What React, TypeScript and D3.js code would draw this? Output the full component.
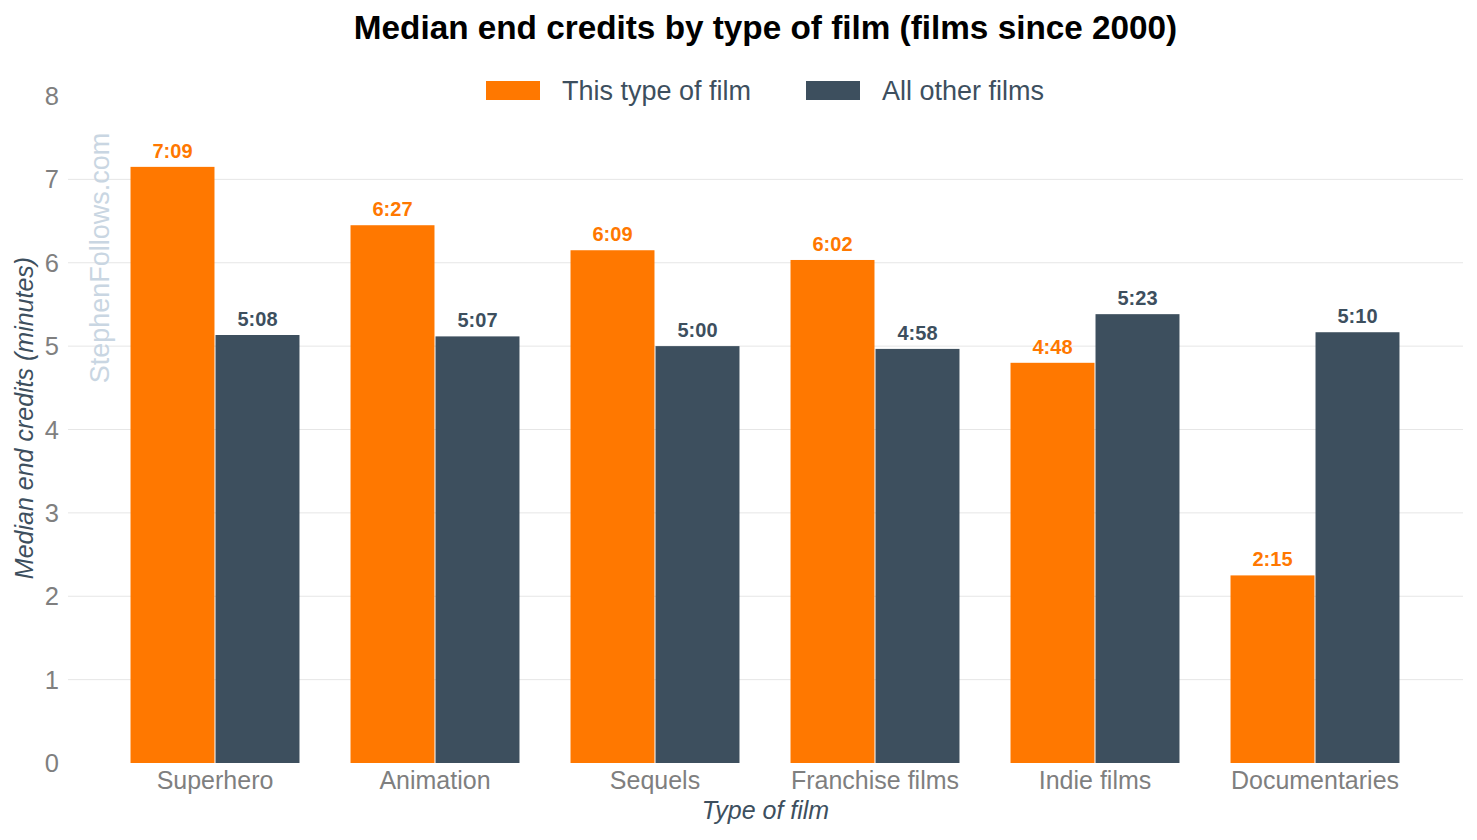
import React from "react";
import * as d3 from "d3";

const categories = ["Superhero", "Animation", "Sequels", "Franchise films", "Indie films", "Documentaries"];
const seriesNames = ["This type of film", "All other films"];
const thisTypeLabels = ["7:09", "6:27", "6:09", "6:02", "4:48", "2:15"];
const otherLabels = ["5:08", "5:07", "5:00", "4:58", "5:23", "5:10"];
const yTicks = [0, 1, 2, 3, 4, 5, 6, 7, 8];
const gridTicks = [1, 2, 3, 4, 5, 6, 7];

const toMinutes = (s: string) => {
  const [m, sec] = s.split(":").map(Number);
  return m + sec / 60;
};
const thisTypeValues = thisTypeLabels.map(toMinutes);
const otherValues = otherLabels.map(toMinutes);

const COLORS = ["#FF7800", "#3D4F5E"];
const FONT = "'Liberation Sans', Arial, Helvetica, sans-serif";

export default function App() {
  const W = 1477;
  const H = 840;
  const plotLeft = 68;
  const plotRight = 1463;

  const x = d3.scaleBand<string>().domain(categories).range([105, 1425]).paddingInner(0.232).paddingOuter(0.116);
  const xs = d3.scaleBand<string>().domain(seriesNames).range([0, x.bandwidth()]).paddingInner(0.012);
  const y = d3.scaleLinear().domain([0, 8]).range([763, 96]);

  const seriesData = [
    { name: seriesNames[0], values: thisTypeValues, labels: thisTypeLabels, color: COLORS[0] },
    { name: seriesNames[1], values: otherValues, labels: otherLabels, color: COLORS[1] },
  ];

  return (
    <svg width={W} height={H} style={{ position: "absolute", left: 0, top: 0, background: "#fff" }} fontFamily={FONT}>
      <text x={(plotLeft + plotRight) / 2} y={39} textAnchor="middle" fontSize={33.3} fontWeight="bold" fill="#000">
        Median end credits by type of film (films since 2000)
      </text>

      {/* legend */}
      <g>
        <rect x={486} y={81} width={54} height={19} fill={COLORS[0]} />
        <text x={562} y={100} fontSize={27} fill="#3D4F5E">{seriesNames[0]}</text>
        <rect x={806} y={81} width={54} height={19} fill={COLORS[1]} />
        <text x={882} y={100} fontSize={27} fill="#3D4F5E">{seriesNames[1]}</text>
      </g>

      {/* grid */}
      {gridTicks.map((t) => (
        <line key={t} x1={plotLeft} x2={plotRight} y1={y(t)} y2={y(t)} stroke="#E6E6E6" strokeWidth={1} />
      ))}

      {/* y ticks */}
      {yTicks.map((t) => (
        <text key={t} x={59} y={y(t) + 9} textAnchor="end" fontSize={25.5} fill="#7F7F7F">{t}</text>
      ))}

      {/* watermark */}
      <text
        transform={`translate(${109},${258}) rotate(-90)`}
        textAnchor="middle"
        fontSize={27}
        fill="#C9D6E2"
      >
        StephenFollows.com
      </text>

      {/* bars */}
      {seriesData.map((s) =>
        categories.map((c, i) => {
          const bx = (x(c) as number) + (xs(s.name) as number);
          const bw = xs.bandwidth();
          const v = s.values[i];
          return (
            <g key={s.name + c}>
              <rect x={bx} y={y(v)} width={bw} height={y(0) - y(v)} fill={s.color} />
              <text x={bx + bw / 2} y={y(v) - 9} textAnchor="middle" fontSize={20} fontWeight="bold" fill={s.color}>
                {s.labels[i]}
              </text>
            </g>
          );
        })
      )}

      {/* x tick labels */}
      {categories.map((c) => (
        <text key={c} x={(x(c) as number) + x.bandwidth() / 2} y={789} textAnchor="middle" fontSize={25} fill="#7F7F7F">
          {c}
        </text>
      ))}

      {/* axis titles */}
      <text x={(plotLeft + plotRight) / 2} y={819} textAnchor="middle" fontSize={25} fontStyle="italic" fill="#3D4F5E">
        Type of film
      </text>
      <text
        transform={`translate(${33},${418}) rotate(-90)`}
        textAnchor="middle"
        fontSize={25}
        fontStyle="italic"
        fill="#3D4F5E"
      >
        Median end credits (minutes)
      </text>
    </svg>
  );
}
